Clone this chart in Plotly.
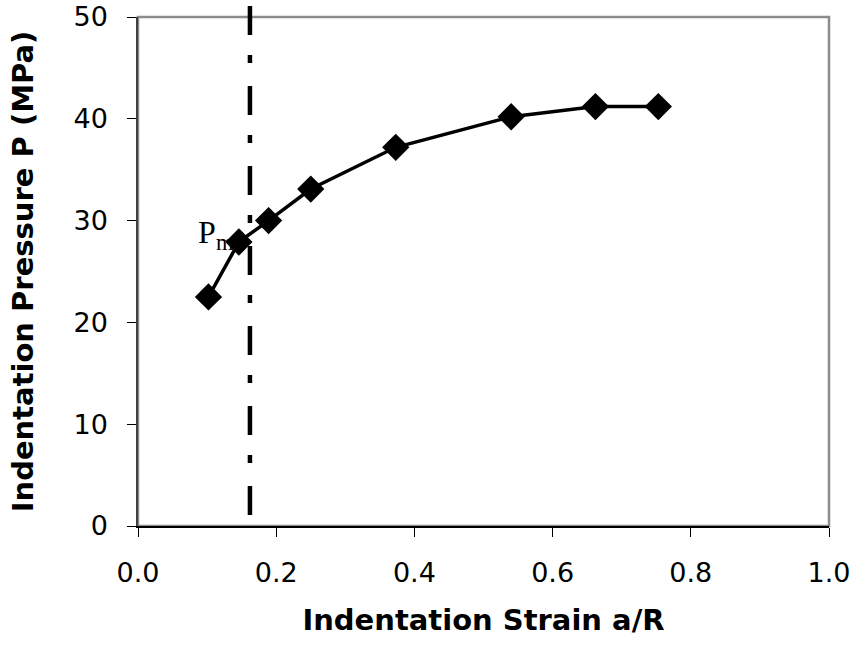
import plotly.graph_objects as go

strain = [0.102, 0.146, 0.189, 0.250, 0.373, 0.540, 0.662, 0.753]
pressure = [22.5, 27.9, 30.0, 33.1, 37.2, 40.2, 41.2, 41.2]
pm_strain = 0.162
pm_label_x = 0.087
pm_label_y = 28.6
x_ticks = [0.0, 0.2, 0.4, 0.6, 0.8, 1.0]
x_tick_text = ["0.0", "0.2", "0.4", "0.6", "0.8", "1.0"]
y_ticks = [0, 10, 20, 30, 40, 50]

fig = go.Figure()

# P_m label (drawn first so the marker overlaps it)
fig.add_trace(go.Scatter(
    x=[pm_label_x], y=[pm_label_y], mode="text",
    text=["P<sub>m</sub>"], textposition="middle right",
    textfont=dict(family="Liberation Serif, Times New Roman, serif", size=32, color="black"),
    showlegend=False, hoverinfo="skip", cliponaxis=False))

fig.add_trace(go.Scatter(
    x=strain, y=pressure, mode="lines+markers",
    line=dict(color="black", width=3.5),
    marker=dict(symbol="diamond", size=21, color="black"),
    showlegend=False, cliponaxis=False))

fig.add_shape(type="rect", xref="paper", yref="paper", x0=0, x1=1, y0=0, y1=1,
              line=dict(color="#8c8c8c", width=2.5), layer="below")
fig.add_shape(type="line", xref="x", yref="paper", x0=pm_strain, x1=pm_strain,
              y0=1.0216, y1=0, line=dict(color="black", width=4.5, dash="29px,20px,8px,23px"))

tick_font = dict(family="DejaVu Sans, sans-serif", size=27, color="black")
title_font = dict(family="DejaVu Sans, sans-serif", size=29, color="black")

fig.update_layout(
    width=859, height=646,
    margin=dict(l=138, r=30, t=17, b=120, autoexpand=False),
    paper_bgcolor="white", plot_bgcolor="white",
    xaxis=dict(range=[0, 1], tickvals=x_ticks, ticktext=x_tick_text, automargin=False,
               showgrid=False, zeroline=False, showline=True, linecolor="black", linewidth=1.5,
               ticks="outside", ticklen=9, tickwidth=1, tickcolor="black",
               tickfont=tick_font, ticklabelstandoff=13, ticklabeloverflow="allow",
               title=dict(text="<b>Indentation Strain a/R</b>", font=title_font, standoff=23)),
    yaxis=dict(range=[0, 50], tickvals=y_ticks, automargin=False,
               showgrid=False, zeroline=False, showline=True, linecolor="#404040", linewidth=1.5,
               ticks="outside", ticklen=9, tickwidth=1, tickcolor="black",
               tickfont=tick_font, ticklabelstandoff=14, ticklabeloverflow="allow",
               title=dict(text="<b>Indentation Pressure P (MPa)</b>", font=title_font, standoff=31)),
)

fig.write_html("out.html", config={"displayModeBar": False},
               post_script="document.body.style.margin='0';")
